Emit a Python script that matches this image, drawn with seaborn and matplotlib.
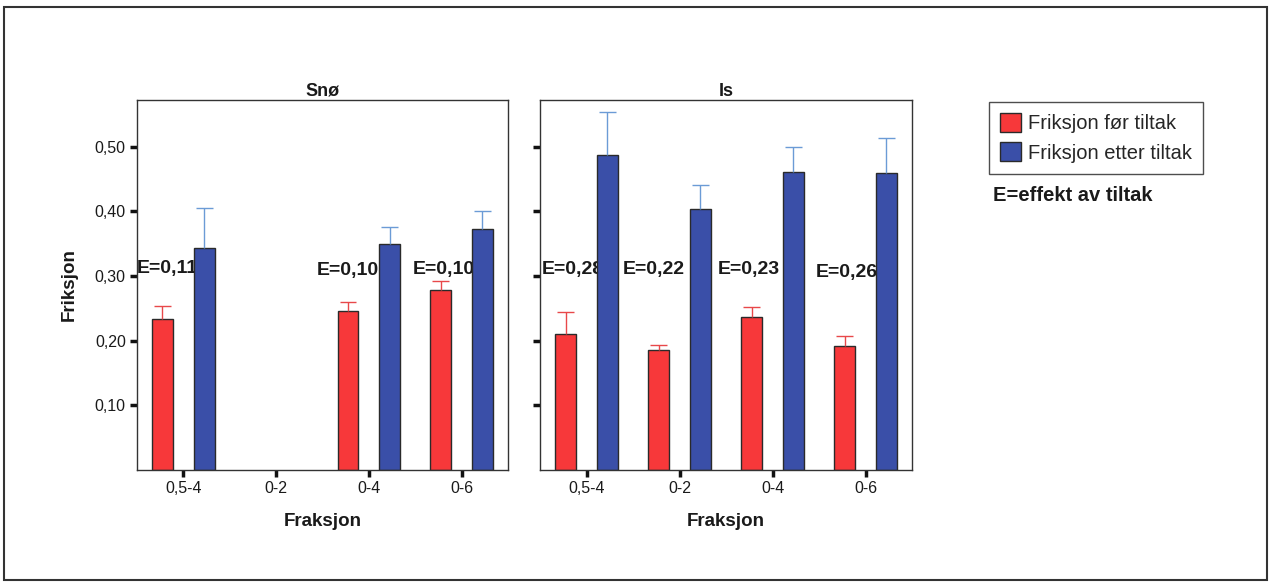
import numpy as np
import pandas as pd
import matplotlib
matplotlib.use("Agg")
import matplotlib.pyplot as plt
from matplotlib.patches import Rectangle
import seaborn as sns

# ──────────────────────────────────────────────
# DATA (lest av figuren)
# ──────────────────────────────────────────────
FRAKSJON = ["0,5-4", "0-2", "0-4", "0-6"]
TILTAK = ["Friksjon før tiltak", "Friksjon etter tiltak"]

SNO_FOR = [0.234, np.nan, 0.246, 0.278]
SNO_FOR_ERR = [0.020, np.nan, 0.013, 0.014]
SNO_ETTER = [0.343, np.nan, 0.350, 0.372]
SNO_ETTER_ERR = [0.062, np.nan, 0.025, 0.029]

IS_FOR = [0.210, 0.186, 0.236, 0.191]
IS_FOR_ERR = [0.034, 0.008, 0.016, 0.016]
IS_ETTER = [0.487, 0.404, 0.461, 0.459]
IS_ETTER_ERR = [0.067, 0.036, 0.039, 0.055]

SNO_E = ["E=0,11", "", "E=0,10", "E=0,10"]
IS_E = ["E=0,28", "E=0,22", "E=0,23", "E=0,26"]

Y_TICKS = [0.10, 0.20, 0.30, 0.40, 0.50]
Y_TICKLABELS = ["0,10", "0,20", "0,30", "0,40", "0,50"]

# plassering av E-tekstene (forskyvning fra kategorisenter, høyde)
SNO_E_DX = [-0.17, 0.0, -0.23, -0.19]
SNO_E_Y = [0.311, 0.0, 0.309, 0.310]
IS_E_DX = [-0.15, -0.28, -0.25, -0.20]
IS_E_Y = [0.310, 0.310, 0.310, 0.305]

RED = "#f7383a"
BLUE = "#3a4fa8"
ERR_COLORS = {TILTAK[0]: "#e8484a", TILTAK[1]: "#6b9bd6"}


def make_frame(for_vals, for_err, etter_vals, etter_err):
    rows = []
    for i, fr in enumerate(FRAKSJON):
        rows.append((fr, TILTAK[0], for_vals[i], for_err[i]))
        rows.append((fr, TILTAK[1], etter_vals[i], etter_err[i]))
    df = pd.DataFrame(rows, columns=["Fraksjon", "Tiltak", "Friksjon", "Feil"])
    return df.dropna()


sns.set_style("white")
plt.rcParams["font.family"] = ["Liberation Sans", "DejaVu Sans"]

fig = plt.figure(figsize=(12.74, 5.84), dpi=100)
ax_sno = fig.add_axes([0.1075, 0.1952, 0.2912, 0.6336])
ax_is = fig.add_axes([0.4239, 0.1952, 0.2920, 0.6336])

panels = [
    (ax_sno, "Snø", make_frame(SNO_FOR, SNO_FOR_ERR, SNO_ETTER, SNO_ETTER_ERR), SNO_E, SNO_E_DX, SNO_E_Y),
    (ax_is, "Is", make_frame(IS_FOR, IS_FOR_ERR, IS_ETTER, IS_ETTER_ERR), IS_E, IS_E_DX, IS_E_Y),
]

for ax, title, df, e_labels, e_dx, e_y in panels:
    sns.barplot(
        data=df, x="Fraksjon", y="Friksjon", hue="Tiltak",
        order=FRAKSJON, hue_order=TILTAK, palette=[RED, BLUE],
        width=0.9, gap=0.5, errorbar=None, saturation=1,
        edgecolor="#2a2a2a", linewidth=1.0,
        legend=(ax is ax_is), ax=ax, zorder=2,
    )

    # feilstolper (kun øvre del er synlig i originalen)
    for level, container in zip(TILTAK, ax.containers):
        for bar in container:
            h = bar.get_height()
            if np.isnan(h):
                continue
            cx = bar.get_x() + bar.get_width() / 2
            fr = FRAKSJON[int(round(cx))]
            err = df[(df["Fraksjon"] == fr) & (df["Tiltak"] == level)]["Feil"].iloc[0]
            ax.vlines(cx, h, h + err, color=ERR_COLORS[level], lw=1.0, zorder=3)
            ax.hlines(h + err, cx - 0.09, cx + 0.09, color=ERR_COLORS[level], lw=1.0, zorder=3)

    for i, txt in enumerate(e_labels):
        if txt:
            ax.text(i + e_dx[i], e_y[i], txt, ha="center", va="center",
                    fontsize=14, fontweight="bold", color="#1a1a1a", zorder=1)

    ax.set_xlim(-0.5, 3.5)
    ax.set_ylim(0, 0.572)
    ax.set_yticks(Y_TICKS)
    ax.set_title(title, fontsize=13, fontweight="bold", pad=3, color="#1a1a1a")
    ax.set_xlabel("Fraksjon", fontsize=13.5, fontweight="bold", labelpad=12, color="#1a1a1a")
    ax.tick_params(axis="both", direction="out", length=5, width=2.5, color="#111111",
                   labelsize=11.5, pad=3, labelcolor="#1a1a1a", bottom=True, left=True)
    for sp in ax.spines.values():
        sp.set_visible(True)
        sp.set_color("#333333")
        sp.set_linewidth(1.0)

ax_sno.set_yticklabels(Y_TICKLABELS)
ax_sno.set_ylabel("Friksjon", fontsize=13.5, fontweight="bold", labelpad=12, color="#1a1a1a")
ax_is.set_yticklabels([])
ax_is.set_ylabel("")

sns.move_legend(
    ax_is, loc="upper left", bbox_to_anchor=(0.7763, 0.8253),
    bbox_transform=fig.transFigure, title=None, frameon=True, fancybox=False,
    edgecolor="#222222", fontsize=14.5, handlelength=1.05, handleheight=1.05,
    handletextpad=0.35, labelspacing=0.45, borderpad=0.55, borderaxespad=0.0,
)
ax_is.get_legend().get_frame().set_linewidth(1.0)

fig.text(0.7794, 0.6644, "E=effekt av tiltak", fontsize=14.5, fontweight="bold",
         va="center", ha="left", color="#1a1a1a")

# ytre ramme rundt hele figuren
fig.patches.append(Rectangle((0.003, 0.007), 0.9915, 0.981, transform=fig.transFigure,
                             fill=False, edgecolor="#333333", linewidth=1.5))

fig.savefig("out.png", dpi=100)
